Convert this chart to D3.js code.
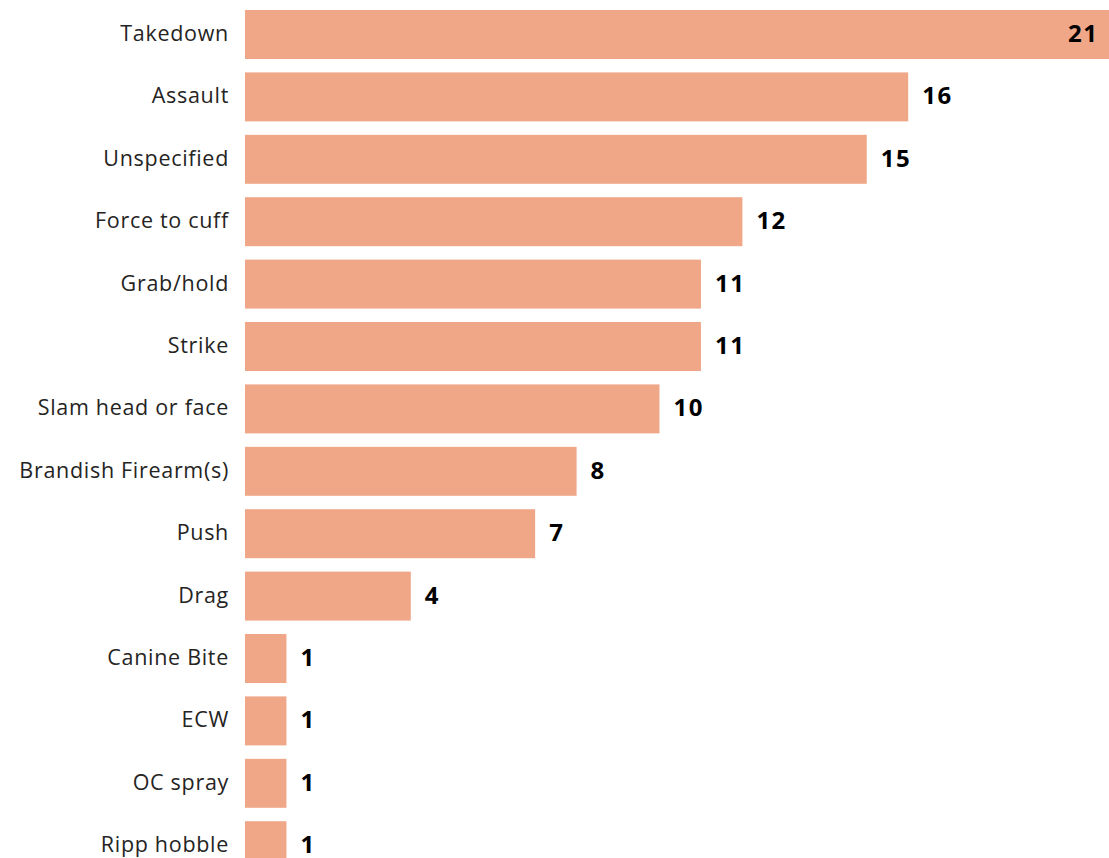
<!DOCTYPE html>
<html>
<head>
<meta charset="utf-8">
<script src="https://cdn.jsdelivr.net/npm/d3@7"></script>
<style>
    html, body { margin: 0; padding: 0; background: #fff; overflow: hidden; }
    svg { display: block; }
</style>
</head>
<body>
<svg id="chart"></svg>
<script>
const categories = ['Takedown', 'Assault', 'Unspecified', 'Force to cuff', 'Grab/hold', 'Strike',
    'Slam head or face', 'Brandish Firearm(s)', 'Push', 'Drag', 'Canine Bite', 'ECW', 'OC spray', 'Ripp hobble'];
const counts = [21, 16, 15, 12, 11, 11, 10, 8, 7, 4, 1, 1, 1, 1];

const width = 1109;
const height = 858;
const left = 245;

const svg = d3.select('#chart').attr('width', width).attr('height', height);

const x = d3.scaleLinear().domain([0, 21]).range([left, left + 21 * 41.45]);
const y = d3.scaleBand()
    .domain(categories)
    .range([10 - 6.7, 10 - 6.7 + categories.length * 62.4])
    .paddingInner(0.215)
    .paddingOuter(0.1075);

const data = categories.map((c, i) => ({ name: c, value: counts[i] }));

// Bars
svg.append('g')
    .selectAll('rect')
    .data(data)
    .enter()
    .append('rect')
    .attr('x', x(0))
    .attr('y', d => y(d.name))
    .attr('width', d => x(d.value) - x(0))
    .attr('height', y.bandwidth())
    .attr('fill', '#f0a788');

// Category labels
svg.append('g')
    .selectAll('text')
    .data(data)
    .enter()
    .append('text')
    .attr('x', left - 16)
    .attr('y', d => y(d.name) + y.bandwidth() / 2 - 2)
    .attr('text-anchor', 'end')
    .attr('dominant-baseline', 'central')
    .attr('font-family', 'Open Sans, Noto Sans, sans-serif')
    .attr('font-size', '21.5px')
    .attr('letter-spacing', '0.7px')
    .attr('fill', '#252423')
    .text(d => d.name);

// Value labels (inside the bar when it would not fit)
const inside = d => x(d.value) + 50 > width;

svg.append('g')
    .selectAll('text')
    .data(data)
    .enter()
    .append('text')
    .attr('x', d => (inside(d) ? x(d.value) - 17 : x(d.value) + 14))
    .attr('y', d => y(d.name) + y.bandwidth() / 2 - 2)
    .attr('text-anchor', d => (inside(d) ? 'end' : 'start'))
    .attr('dominant-baseline', 'central')
    .attr('font-family', 'Open Sans, Noto Sans, sans-serif')
    .attr('font-size', '24px')
    .attr('font-weight', '700')
    .attr('letter-spacing', '1.5px')
    .attr('fill', '#000')
    .text(d => d.value);
</script>
</body>
</html>
